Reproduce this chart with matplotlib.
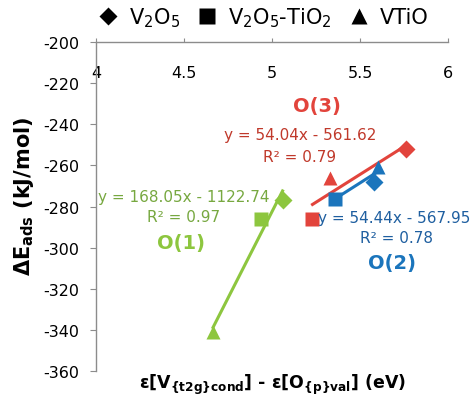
import matplotlib
matplotlib.use('Agg')
import matplotlib.pyplot as plt
import numpy as np

plt.rcParams['font.family'] = ['DejaVu Sans']
plt.rcParams['mathtext.fontset'] = 'dejavusans'
plt.rcParams['mathtext.default'] = 'regular'
plt.rcParams['axes.unicode_minus'] = False

# 数据：三种氧位 O(1), O(2), O(3)；三种体系 V2O5 / V2O5-TiO2 / VTiO
sites = ['O(1)', 'O(2)', 'O(3)']
x_v2o5 = [5.06, 5.58, 5.76]
y_v2o5 = [-277, -268, -252]
x_v2o5_tio2 = [4.94, 5.36, 5.23]
y_v2o5_tio2 = [-286, -276.5, -286]
x_vtio = [4.665, 5.60, 5.33]
y_vtio = [-341, -261, -266]

# 趋势线（图中给出的方程）
slopes = [168.05, 54.44, 54.04]
intercepts = [-1122.74, -567.95, -561.62]
r2 = [0.97, 0.78, 0.79]

marker_colors = ['#8DC63F', '#1B75BC', '#E2443C']
text_colors = ['#77A840', '#1F5FA0', '#C0392B']

fig = plt.figure(figsize=(4.72, 4.06), dpi=100)
ax = fig.add_axes([0.2034, 0.0837, 0.7458, 0.8103])

for i in range(3):
    xs = [x_v2o5[i], x_v2o5_tio2[i], x_vtio[i]]
    xx = np.array([min(xs), max(xs)])
    ax.plot(xx, slopes[i] * xx + intercepts[i], color=marker_colors[i], lw=2.2, zorder=2)
    ax.plot(x_v2o5[i], y_v2o5[i], 'D', ms=9.5, color=marker_colors[i], mec='none', zorder=3)
    ax.plot(x_v2o5_tio2[i], y_v2o5_tio2[i], 's', ms=10, color=marker_colors[i], mec='none', zorder=3)
    ax.plot(x_vtio[i], y_vtio[i], '^', ms=10.5, color=marker_colors[i], mec='none', zorder=3)

# 方程与标注文字（位置）
eq_pos = [(4.50, -274.9), (5.693, -285.2), (5.159, -244.8)]
r2_pos = [(4.50, -284.7), (5.71, -294.9), (5.159, -255.5)]
site_pos = [(4.483, -297.3), (5.682, -307.1), (5.256, -231.1)]
for i in range(3):
    sign = '-' if intercepts[i] < 0 else '+'
    ax.text(eq_pos[i][0], eq_pos[i][1], f'y = {slopes[i]:.2f}x {sign} {abs(intercepts[i]):.2f}',
            color=text_colors[i], fontsize=11, ha='center', va='center')
    ax.text(r2_pos[i][0], r2_pos[i][1], f'R² = {r2[i]:.2f}',
            color=text_colors[i], fontsize=11, ha='center', va='center')
    ax.text(site_pos[i][0], site_pos[i][1], sites[i], color=marker_colors[i], fontsize=14,
            fontweight='bold', ha='center', va='center')

ax.set_xlim(4, 6)
ax.set_ylim(-360, -200)
ax.set_xticks([4, 4.5, 5, 5.5, 6])
ax.set_xticklabels(['4', '4.5', '5', '5.5', '6'])
ax.set_yticks(np.arange(-360, -199, 20))

for s in ['right', 'bottom']:
    ax.spines[s].set_visible(False)
for s in ['left', 'top']:
    ax.spines[s].set_color('#8C8C8C')
    ax.spines[s].set_linewidth(1.0)

ax.xaxis.set_ticks_position('top')
ax.tick_params(axis='x', direction='out', length=3, color='#8C8C8C', labelsize=11.5, pad=-30)
ax.tick_params(axis='y', direction='out', length=4, color='#8C8C8C', labelsize=11.5, pad=8)

fig.text(0.05, 0.517, r'ΔE$_\mathbf{ads}$ (kJ/mol)', rotation=90, fontsize=15,
         fontweight='bold', ha='center', va='center')
fig.text(0.577, 0.052, r'ε[V$_\mathbf{\{t2g\}cond}$] - ε[O$_\mathbf{\{p\}val}$] (eV)',
         fontsize=12.5, fontweight='bold', ha='center', va='center')

# 图例
h1, = ax.plot([], [], 'D', ms=9, color='black', mec='none')
h2, = ax.plot([], [], 's', ms=11, color='black', mec='none')
h3, = ax.plot([], [], '^', ms=12, color='black', mec='none')
fig.legend([h1, h2, h3], [r'V$_2$O$_5$', r'V$_2$O$_5$-TiO$_2$', 'VTiO'],
           loc='center', bbox_to_anchor=(0.56, 0.956), ncol=3, frameon=False,
           fontsize=15, handlelength=0.8, handletextpad=0.6, columnspacing=0.9)

fig.savefig('out.png', dpi=100)
